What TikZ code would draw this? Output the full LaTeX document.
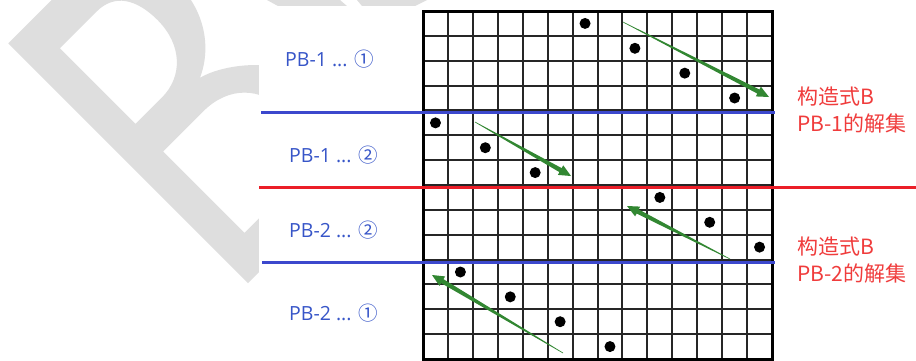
\documentclass[tikz,border=0pt]{standalone}
\usepackage{fontspec}
\setmainfont{Open Sans}
\newfontfamily\cjkfont{Noto Sans CJK SC}
\usetikzlibrary{calc}
\definecolor{wmgray}{RGB}{222,222,222}
\definecolor{lineblue}{RGB}{60,72,205}
\definecolor{linered}{RGB}{235,30,40}
\definecolor{txtblue}{RGB}{55,85,200}
\definecolor{txtred}{RGB}{240,60,60}
\definecolor{arrowgreen}{RGB}{50,135,50}
\tikzset{
  bluelabel/.style={anchor=west, inner sep=0pt, text=txtblue, font=\fontsize{19.5}{22}\selectfont},
  redlabel/.style={anchor=west, inner sep=0pt, text=txtred, align=left, font=\cjkfont\fontsize{21}{27}\selectfont},
  gridline/.style={line width=2pt, draw=black!85},
  frameline/.style={line width=3pt, draw=black},
  queen/.style={circle, fill=black, inner sep=0pt, minimum size=11pt},
  blueline/.style={line width=3pt, draw=lineblue},
  redline/.style={line width=3pt, draw=linered},
}
\newcommand\taperarrow[2]{%
  \coordinate (#1b) at ($(#2)!12pt!(#1)$);
  \fill[arrowgreen] ($(#1)!0.3pt!90:(#2)$) -- ($(#1b)!2.3pt!90:(#2)$) -- ($(#1b)!5.5pt!90:(#2)$) -- (#2)
    -- ($(#1b)!5.5pt!-90:(#2)$) -- ($(#1b)!2.3pt!-90:(#2)$) -- ($(#1)!0.3pt!-90:(#2)$) -- cycle;
}
\begin{document}
\begin{tikzpicture}[x=1pt,y=-1pt]
\useasboundingbox (0,0) rectangle (916,360);
\fill[white] (0,0) rectangle (916,360);
% watermark letter
\begin{scope}[shift={(248,283)}, y=1pt, rotate=45]
  \fill[wmgray, even odd rule]
    (0,0) -- (0,339) -- (90,339) .. controls (135,339) and (162,310) .. (162,262)
      .. controls (162,222) and (140,192) .. (111,179)
      .. controls (140,172) and (188,132) .. (188,92)
      .. controls (188,35) and (150,0) .. (100,0) -- cycle
    (33,192) -- (33,299) -- (85,299) .. controls (110,299) and (122,280) .. (122,250)
      .. controls (122,215) and (100,192) .. (70,192) -- cycle
    (33,38) -- (33,153) -- (90,153) .. controls (125,153) and (148,130) .. (148,95)
      .. controls (148,60) and (125,38) .. (95,38) -- cycle;
\end{scope}
\fill[wmgray] (267,0) -- (340,0) -- (347,6) -- (278,6) -- cycle;
\fill[wmgray] (357,0) -- (427,0) -- (415,6) -- (362,6) -- cycle;
% picture area
\fill[white] (259,6) rectangle (916,360);
% grid
\foreach \i in {0,...,14} {
  \pgfmathsetmacro\gx{round(423+\i*24.93)}
  \pgfmathsetmacro\gy{round(11+\i*24.857)}
  \draw[gridline] (\gx,11) -- (\gx,359);
  \draw[gridline] (423,\gy) -- (772,\gy);
}
\draw[frameline] (423,11) rectangle (772,359);
% queens
\foreach \c [count=\r] in {7,9,11,13,1,3,5,10,12,14,2,4,6,8}
  \node[queen] (q\r) at ({423+(\c-0.5)*24.93},{11+(\r-0.5)*24.857}) {};
% separating lines
\coordinate (b1l) at (261,112); \coordinate (b1r) at (775,112);
\coordinate (rl) at (259,187);  \coordinate (rr) at (916,187);
\coordinate (b2l) at (262,262); \coordinate (b2r) at (775,262);
\draw[blueline] (b1l) -- (b1r);
\draw[redline] (rl) -- (rr);
\draw[blueline] (b2l) -- (b2r);
% green arrows
\coordinate (t1) at (623,22);  \coordinate (h1) at (769,97);
\coordinate (t2) at (475,122); \coordinate (h2) at (571,176);
\coordinate (t3) at (730,259); \coordinate (h3) at (627,206);
\coordinate (t4) at (563,353); \coordinate (h4) at (432,275);
\taperarrow{t1}{h1}
\taperarrow{t2}{h2}
\taperarrow{t3}{h3}
\taperarrow{t4}{h4}
% labels
\node[bluelabel] (l1) at (285,59) {PB-1 ... {\cjkfont ①}};
\node[bluelabel] (l2) at (289,155) {PB-1 ... {\cjkfont ②}};
\node[bluelabel] (l3) at (289,230) {PB-2 ... {\cjkfont ②}};
\node[bluelabel] (l4) at (289,313) {PB-2 ... {\cjkfont ①}};
\node[redlabel] (r1) at (797,110) {构造式B\\PB-1的解集};
\node[redlabel] (r2) at (797,260) {构造式B\\PB-2的解集};
\end{tikzpicture}
\end{document}
